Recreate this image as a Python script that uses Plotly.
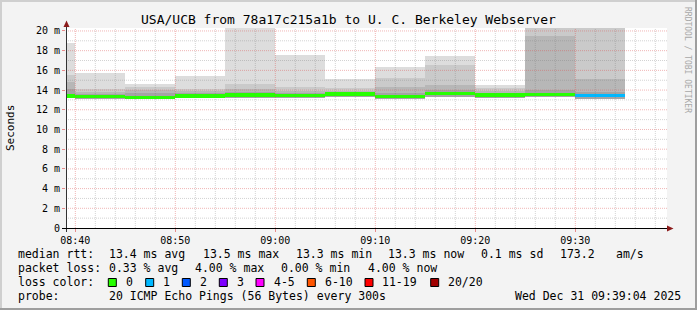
import plotly.graph_objects as go
import pandas as pd

# ---------------- data ----------------
bin_starts = pd.date_range("2025-12-31 08:35:00", periods=12, freq="5min")
median_ms = [13.40, 13.33, 13.27, 13.40, 13.50, 13.45, 13.60, 13.35, 13.65, 13.50, 13.55, 13.45]
loss_count = [0, 0, 0, 0, 0, 0, 0, 0, 0, 0, 0, 1]
smoke_bottom = [13.15, 13.10, 13.05, 13.15, 13.20, 13.15, 13.25, 13.10, 13.30, 13.20, 13.25, 13.10]
smoke_l1_top = [18.8, 15.7, 14.6, 15.4, 20.6, 17.55, 15.1, 16.3, 17.5, 14.5, 20.6, 20.6]
smoke_l2_top = [15.5, 14.1, 14.3, 14.1, 14.6, 14.3, 14.2, 15.2, 16.5, 14.25, 20.6, 20.6]
smoke_l3_top = [14.8, 13.8, 14.0, 13.9, 14.1, 13.9, 13.9, 14.3, 14.55, 13.95, 19.45, 15.1]
smoke_l4_top = [14.1, 13.65, 13.7, 13.7, 13.8, 13.75, 13.8, 13.7, 14.05, 13.75, 14.0, 13.85]

y_tick_vals = [0, 2, 4, 6, 8, 10, 12, 14, 16, 18, 20]
y_tick_text = ["0", "2 m", "4 m", "6 m", "8 m", "10 m", "12 m", "14 m", "16 m", "18 m", "20 m"]

title_text = "USA/UCB from 78a17c215a1b to U. C. Berkeley Webserver"
rtt_items = ["median rtt:", "13.4 ms avg", "13.5 ms max", "13.3 ms min", "13.3 ms now", "0.1 ms sd", "173.2", "am/s"]
loss_items = ["packet loss:", "0.33 % avg", "4.00 % max", "0.00 % min", "4.00 % now"]
loss_labels = ["0", "1", "2", "3", "4-5", "6-10", "11-19", "20/20"]
loss_colors = ["#26ff00", "#00b8ff", "#0059ff", "#7e00ff", "#ff00ff", "#ff5500", "#ff0000", "#a10000"]
probe_items = ["probe:", "20 ICMP Echo Pings (56 Bytes) every 300s", "Wed Dec 31 09:39:04 2025"]

# ---------------- layout geometry ----------------
W, H = 697, 310
L, R, T, B = 66, 30, 28, 82
PW, PH = W - L - R, H - T - B
x_start = pd.Timestamp("2025-12-31 08:39:04")
x_end = x_start + pd.Timedelta(seconds=601 * 6)
y_max = 20.3
MONO = "DejaVu Sans Mono"

def px(xp):
    return (xp - L) / PW

def py(yp):
    return (H - B - yp) / PH

centers = bin_starts + pd.Timedelta("150s")
bw = 300000

fig = go.Figure()
shades = ["#dddddd", "#cacaca", "#b7b7b7", "#a4a4a4"]
for tops, col in zip([smoke_l1_top, smoke_l2_top, smoke_l3_top, smoke_l4_top], shades):
    fig.add_trace(go.Bar(
        x=centers, y=[t - b for t, b in zip(tops, smoke_bottom)], base=smoke_bottom,
        width=bw, marker=dict(color=col, line=dict(width=0)), hoverinfo="skip", showlegend=False))

def loss_color(n):
    if n == 0: return loss_colors[0]
    if n == 1: return loss_colors[1]
    if n == 2: return loss_colors[2]
    if n == 3: return loss_colors[3]
    if n <= 5: return loss_colors[4]
    if n <= 10: return loss_colors[5]
    if n <= 19: return loss_colors[6]
    return loss_colors[7]

mw = 0.33
fig.add_trace(go.Bar(
    x=centers, y=[mw] * len(median_ms), base=[m - mw / 2 for m in median_ms],
    width=bw, marker=dict(color=[loss_color(n) for n in loss_count], line=dict(width=0)),
    hoverinfo="skip", showlegend=False))

shapes = []
# grid drawn above the smoke (rrdtool style)
minor_col = "rgba(120,120,120,0.33)"
major_col = "rgba(220,80,80,0.42)"
t = pd.Timestamp("2025-12-31 08:40:00")
while t <= x_end:
    major = (t.minute % 10 == 0)
    shapes.append(dict(type="line", xref="x", yref="y domain", x0=t, x1=t, y0=0, y1=1, layer="above",
                       line=dict(color=major_col if major else minor_col, width=1, dash="1px,1px")))
    t += pd.Timedelta("2min")
for v in range(1, 21):
    major = (v % 2 == 0)
    shapes.append(dict(type="line", xref="x domain", yref="y", x0=0, x1=1, y0=v, y1=v, layer="above",
                       line=dict(color=major_col if major else minor_col, width=1, dash="1px,1px")))

# axes lines and arrows
shapes.append(dict(type="line", xref="paper", yref="paper", x0=px(66.5), x1=px(66.5), y0=py(232), y1=py(24),
                   line=dict(color="#333333", width=1), layer="above"))
shapes.append(dict(type="line", xref="paper", yref="paper", x0=px(62), x1=px(669), y0=py(228.5), y1=py(228.5),
                   line=dict(color="#000000", width=1), layer="above"))
shapes.append(dict(type="path", xref="paper", yref="paper", layer="above",
                   path=f"M {px(63.5)} {py(27)} L {px(69.5)} {py(27)} L {px(66.5)} {py(20.5)} Z",
                   fillcolor="#8b1a1a", line=dict(width=0)))
shapes.append(dict(type="path", xref="paper", yref="paper", layer="above",
                   path=f"M {px(667)} {py(225.5)} L {px(667)} {py(231.5)} L {px(673.5)} {py(228.5)} Z",
                   fillcolor="#8b1a1a", line=dict(width=0)))

# frame
shapes += [
    dict(type="rect", xref="paper", yref="paper", x0=px(0), x1=px(W), y0=py(0), y1=py(2),
         fillcolor="#cfcfcf", line=dict(width=0), layer="above"),
    dict(type="rect", xref="paper", yref="paper", x0=px(0), x1=px(2), y0=py(0), y1=py(H),
         fillcolor="#cfcfcf", line=dict(width=0), layer="above"),
    dict(type="rect", xref="paper", yref="paper", x0=px(W - 2), x1=px(W), y0=py(0), y1=py(H),
         fillcolor="#9e9e9e", line=dict(width=0), layer="above"),
    dict(type="rect", xref="paper", yref="paper", x0=px(0), x1=px(W), y0=py(H - 2), y1=py(H),
         fillcolor="#9e9e9e", line=dict(width=0), layer="above"),
]

annotations = []

def text_at(x, y, s, size=11.5, color="#000000", anchor="left", angle=0):
    annotations.append(dict(x=px(x), y=py(y), xref="paper", yref="paper", text=s, showarrow=False,
                            xanchor=anchor, yanchor="middle", textangle=angle,
                            font=dict(family=MONO, size=size, color=color)))

text_at(348, 19, title_text, size=13, anchor="center")
text_at(10, 128, "Seconds", size=11, anchor="center", angle=-90)
text_at(688, 60, "RRDTOOL / TOBI OETIKER", size=8, color="#a8a8a8", anchor="center", angle=90)

row_y = [254, 268, 282, 296]
for x, s in zip([16, 107, 200.7, 294, 386, 479.3, 558.3, 614.3], rtt_items):
    text_at(x, row_y[0], s)
for x, s in zip([16, 107.3, 193.3, 279.3, 365.7], loss_items):
    text_at(x, row_y[1], s)
text_at(16, row_y[2], "loss color:")
box_x = [108.3, 145.7, 182.3, 219.3, 256, 307.3, 365, 430.7]
lab_x = [124, 160.7, 198.3, 235.3, 271.7, 322.7, 380, 445.7]
for bx, lx, lab, col in zip(box_x, lab_x, loss_labels, loss_colors):
    shapes.append(dict(type="rect", xref="paper", yref="paper", x0=px(bx), x1=px(bx + 8),
                       y0=py(286.5), y1=py(278.5), fillcolor=col, line=dict(color="#000000", width=1)))
    text_at(lx, row_y[2], lab)
for x, s in zip([16, 107, 513.3], probe_items):
    text_at(x, row_y[3], s)

fig.update_layout(
    width=W, height=H, margin=dict(l=L, r=R, t=T, b=B, pad=0),
    paper_bgcolor="#f3f3f3", plot_bgcolor="#ffffff",
    barmode="overlay", bargap=0, showlegend=False,
    shapes=shapes, annotations=annotations,
    xaxis=dict(range=[x_start, x_end], type="date", showgrid=False, zeroline=False,
               tickvals=pd.date_range("2025-12-31 08:40", periods=6, freq="10min"),
               tickformat="%H:%M", ticks="outside", ticklen=3, tickcolor="rgba(225,70,70,0.6)",
               tickfont=dict(family=MONO, size=10, color="#000000"), showline=False, fixedrange=True),
    yaxis=dict(range=[0, y_max], showgrid=False, zeroline=False,
               tickvals=y_tick_vals, ticktext=y_tick_text, ticks="outside", ticklen=3,
               tickcolor="rgba(225,70,70,0.6)",
               tickfont=dict(family=MONO, size=10, color="#000000"), showline=False, fixedrange=True),
)

fig.write_html("out.html", config={"displayModeBar": False})
